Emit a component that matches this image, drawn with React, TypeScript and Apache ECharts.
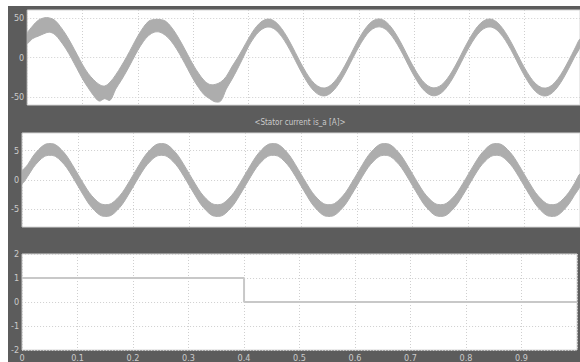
import React, { useEffect, useRef } from "react";
import * as echarts from "echarts";

// Sample times (s)
const time = [
  0, 0.01, 0.02, 0.03, 0.04, 0.05, 0.06, 0.07, 0.08, 0.09,
  0.1, 0.11, 0.12, 0.13, 0.14, 0.15, 0.16, 0.17, 0.18, 0.19,
  0.2, 0.21, 0.22, 0.23, 0.24, 0.25, 0.26, 0.27, 0.28, 0.29,
  0.3, 0.31, 0.32, 0.33, 0.34, 0.35, 0.36, 0.37, 0.38, 0.39,
  0.4, 0.41, 0.42, 0.43, 0.44, 0.45, 0.46, 0.47, 0.48, 0.49,
  0.5, 0.51, 0.52, 0.53, 0.54, 0.55, 0.56, 0.57, 0.58, 0.59,
  0.6, 0.61, 0.62, 0.63, 0.64, 0.65, 0.66, 0.67, 0.68, 0.69,
  0.7, 0.71, 0.72, 0.73, 0.74, 0.75, 0.76, 0.77, 0.78, 0.79,
  0.8, 0.81, 0.82, 0.83, 0.84, 0.85, 0.86, 0.87, 0.88, 0.89,
  0.9, 0.91, 0.92, 0.93, 0.94, 0.95, 0.96, 0.97, 0.98, 0.99,
  1,
];

// Panel 1 (voltage) noisy band: upper and lower envelopes
const voltageUpper = [
  30, 40, 47, 50, 50, 47, 39, 29, 17, 4,
  -9, -20, -28, -34, -36, -31, -22, -11, 1, 14,
  27, 38, 46, 48, 48, 46, 39, 29, 17, 4,
  -9, -20, -29, -34, -34, -31, -24, -12, -1, 11,
  23.5, 34.8, 43.1, 47.7, 48.2, 44.4, 36.7, 26.0, 13.2, -0.5,
  -13.5, -24.8, -33.1, -37.7, -38.2, -34.4, -26.7, -16.0, -3.2, 10.5,
  23.6, 34.9, 43.4, 47.9, 48.4, 44.6, 36.8, 26.1, 13.4, -0.4,
  -13.4, -24.7, -33.0, -37.6, -38.0, -34.3, -26.6, -15.9, -3.1, 10.6,
  23.5, 34.8, 43.2, 47.8, 48.3, 44.5, 36.7, 26.0, 13.3, -0.5,
  -13.5, -24.8, -33.2, -37.8, -38.3, -34.5, -26.8, -16.1, -3.3, 10.4,
  23.4,
];
const voltageLower = [
  18, 24, 27, 30, 32, 29, 21, 11, -1, -14,
  -27, -38, -48, -55, -52, -54, -40, -29, -17, -4,
  9, 20, 28, 32, 32, 28, 21, 11, -1, -14,
  -27, -38, -47, -52, -56, -55, -40, -28, -15, -1,
  13.5, 24.8, 33.1, 37.7, 38.2, 34.4, 26.7, 16.0, 3.2, -10.5,
  -23.5, -34.8, -43.1, -47.7, -48.2, -44.4, -36.7, -26.0, -13.2, 0.5,
  13.6, 24.9, 33.4, 37.9, 38.4, 34.6, 26.8, 16.1, 3.4, -10.4,
  -23.4, -34.7, -43.0, -47.6, -48.0, -44.3, -36.6, -25.9, -13.1, 0.6,
  13.5, 24.8, 33.2, 37.8, 38.3, 34.5, 26.7, 16.0, 3.3, -10.5,
  -23.5, -34.8, -43.2, -47.8, -48.3, -44.5, -36.8, -26.1, -13.3, 0.4,
  13.4,
];

// Panel 2 (stator current is_a) noisy band
const currentUpper = [
  1.4, 2.6, 4.1, 5.2, 6.0, 6.2, 6.0, 5.2, 4.1, 2.6,
  1.0, -0.6, -2.1, -3.2, -4.0, -4.2, -4.0, -3.2, -2.1, -0.6,
  1.0, 2.6, 4.1, 5.2, 6.0, 6.2, 6.0, 5.2, 4.1, 2.6,
  1.0, -0.6, -2.1, -3.2, -4.0, -4.2, -4.0, -3.2, -2.1, -0.6,
  1.0, 2.6, 4.1, 5.2, 6.0, 6.2, 6.0, 5.2, 4.1, 2.6,
  1.0, -0.6, -2.1, -3.2, -4.0, -4.2, -4.0, -3.2, -2.1, -0.6,
  1.0, 2.6, 4.1, 5.2, 6.0, 6.2, 6.0, 5.2, 4.1, 2.6,
  1.0, -0.6, -2.1, -3.2, -4.0, -4.2, -4.0, -3.2, -2.1, -0.6,
  1.0, 2.6, 4.1, 5.2, 6.0, 6.2, 6.0, 5.2, 4.1, 2.6,
  1.0, -0.6, -2.1, -3.2, -4.0, -4.2, -4.0, -3.2, -2.1, -0.6,
  1.0,
];
const currentLower = [
  -0.6, 0.6, 2.1, 3.2, 4.0, 4.2, 4.0, 3.2, 2.1, 0.6,
  -1.0, -2.6, -4.1, -5.2, -6.0, -6.2, -6.0, -5.2, -4.1, -2.6,
  -1.0, 0.6, 2.1, 3.2, 4.0, 4.2, 4.0, 3.2, 2.1, 0.6,
  -1.0, -2.6, -4.1, -5.2, -6.0, -6.2, -6.0, -5.2, -4.1, -2.6,
  -1.0, 0.6, 2.1, 3.2, 4.0, 4.2, 4.0, 3.2, 2.1, 0.6,
  -1.0, -2.6, -4.1, -5.2, -6.0, -6.2, -6.0, -5.2, -4.1, -2.6,
  -1.0, 0.6, 2.1, 3.2, 4.0, 4.2, 4.0, 3.2, 2.1, 0.6,
  -1.0, -2.6, -4.1, -5.2, -6.0, -6.2, -6.0, -5.2, -4.1, -2.6,
  -1.0, 0.6, 2.1, 3.2, 4.0, 4.2, 4.0, 3.2, 2.1, 0.6,
  -1.0, -2.6, -4.1, -5.2, -6.0, -6.2, -6.0, -5.2, -4.1, -2.6,
  -1.0,
];

// Panel 3 step signal
const stepTime = [0, 0.4, 0.4, 1];
const stepValue = [1, 1, 0, 0];

// Tick labels
const voltageTicks = [-50, 0, 50];
const currentTicks = [-5, 0, 5];

const panelTitle = "<Stator current is_a [A]>";

const BG = "#5c5c5c";
const WAVE = "#adadad";
const LABEL = "#cbcbcb";
const GRIDLINE = "#cfcfcf";
const FONT = "'DejaVu Sans Condensed', 'Liberation Sans Narrow', sans-serif";

// A filled band between the upper and lower envelopes, placed via the axes' scales
function bandSeries(idx: number, upper: number[], lower: number[]) {
  return {
    type: "custom",
    xAxisIndex: idx,
    yAxisIndex: idx,
    clip: true,
    z: 3,
    data: [[0, 0]],
    renderItem: (_params: any, api: any) => {
      const top = time.map((t, i) => api.coord([t, upper[i]]));
      const bottom = time.map((t, i) => api.coord([t, lower[i]])).reverse();
      return {
        type: "group",
        children: [
          {
            type: "polygon",
            shape: { points: top.concat(bottom), smooth: 0.35 },
            style: { fill: WAVE, stroke: WAVE, lineWidth: 1 },
          },
        ],
      };
    },
  };
}

export default function App() {
  const ref = useRef<HTMLDivElement>(null);
  useEffect(() => {
    if (!ref.current) return;
    const chart = echarts.init(ref.current, null, { renderer: "svg" });
    const gridBase = {
      left: 12,
      width: 560,
      show: true,
      backgroundColor: "#ffffff",
      borderColor: "#d6d6d6",
      borderWidth: 1,
    };
    const xAxisBase = (idx: number) => ({
      type: "value",
      gridIndex: idx,
      min: 0,
      max: 1,
      interval: 0.1,
      axisLine: { show: false },
      axisTick: { show: false },
      axisLabel: {
        show: idx === 2,
        color: LABEL,
        fontSize: 9,
        fontFamily: FONT,
        margin: 3,
        formatter: (v: number) => (v >= 0.99 ? "" : String(Math.round(v * 10) / 10)),
      },
      splitLine: { show: true, lineStyle: { color: GRIDLINE, type: [1, 2], width: 1 } },
    });
    const yLabel = { color: LABEL, fontSize: 9, fontFamily: FONT, margin: 3 };
    const ySplit = { show: true, lineStyle: { color: GRIDLINE, type: [1, 2], width: 1 } };
    chart.setOption({
      animation: false,
      backgroundColor: BG,
      grid: [
        { ...gridBase, top: 4, height: 95 },
        { ...gridBase, top: 127, height: 94 },
        { ...gridBase, top: 248, height: 96 },
      ],
      xAxis: [xAxisBase(0), xAxisBase(1), xAxisBase(2)],
      yAxis: [
        {
          type: "value",
          gridIndex: 0,
          min: -60,
          max: 60,
          axisLine: { show: false },
          axisTick: { show: false, customValues: voltageTicks },
          axisLabel: { ...yLabel, customValues: voltageTicks },
          splitLine: ySplit,
        },
        {
          type: "value",
          gridIndex: 1,
          min: -8,
          max: 8,
          axisLine: { show: false },
          axisTick: { show: false, customValues: currentTicks },
          axisLabel: { ...yLabel, customValues: currentTicks },
          splitLine: ySplit,
        },
        {
          type: "value",
          gridIndex: 2,
          min: -2,
          max: 2,
          interval: 1,
          axisLine: { show: false },
          axisTick: { show: false },
          axisLabel: yLabel,
          splitLine: ySplit,
        },
      ],
      graphic: [
        {
          type: "text",
          x: 292,
          y: 116,
          style: {
            text: panelTitle,
            fill: LABEL,
            fontSize: 8,
            fontFamily: FONT,
            align: "center",
            verticalAlign: "middle",
          },
        },
      ],
      series: [
        bandSeries(0, voltageUpper, voltageLower),
        bandSeries(1, currentUpper, currentLower),
        {
          type: "line",
          xAxisIndex: 2,
          yAxisIndex: 2,
          data: stepTime.map((t, i) => [t, stepValue[i]]),
          symbol: "none",
          lineStyle: { color: "#c8c8c8", width: 2 },
          z: 3,
        },
      ],
    });
    return () => chart.dispose();
  }, []);
  return (
    <div style={{ position: "absolute", left: 0, top: 0, width: 580, height: 362, background: "#fff" }}>
      <div ref={ref} style={{ position: "absolute", left: 8, top: 6, width: 572, height: 356 }} />
    </div>
  );
}
